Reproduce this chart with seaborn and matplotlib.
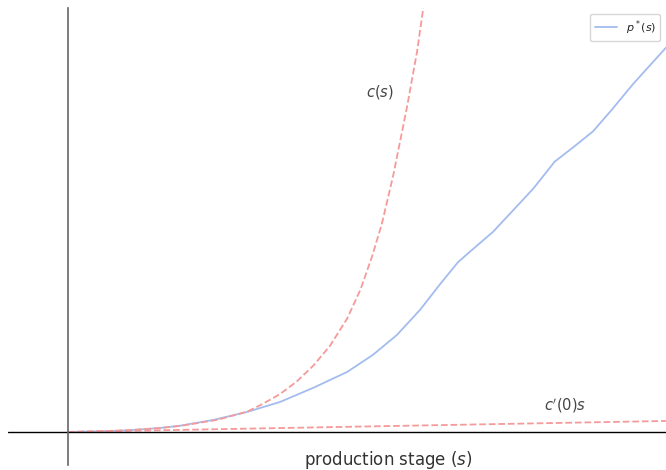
import numpy as np
import pandas as pd
import matplotlib
matplotlib.use("Agg")
import matplotlib.pyplot as plt
import seaborn as sns

# p*(s)
s_p = [0, 0.05, 0.1, 0.154, 0.188, 0.243, 0.300, 0.355, 0.410, 0.467, 0.510,
       0.550, 0.589, 0.622, 0.652, 0.672, 0.711, 0.778, 0.814, 0.846, 0.878,
       0.91, 0.945, 1.0]
p_vals = [0, 0.5, 1.4, 3.6, 5.7, 10.9, 18.2, 27.3, 40, 54.5, 70,
          88, 111, 134, 154, 163.6, 181.8, 220.9, 245.5, 259, 273,
          293, 316, 349]

# c(s)
s_c = [0, 0.05, 0.1, 0.15, 0.188, 0.25, 0.300, 0.326, 0.355, 0.383, 0.410, 0.438,
       0.467, 0.489, 0.509, 0.525, 0.544, 0.567, 0.584, 0.594, 0.605]
c_vals = [0, 0.6, 1.6, 3.4, 5.5, 11, 18.5, 25.5, 34.5, 46, 60, 78,
          103, 129, 160, 189, 233, 295, 346, 384, 428]

# c'(0) s
s_l = [0, 1.0]
l_vals = [0, 10]

sns.set_style("white")
plt.rcParams['font.family'] = ['DejaVu Sans']

fig = plt.figure(figsize=(6.66, 4.70), dpi=100)
ax = fig.add_axes([8/666, 5/470, 658/666, 457/470])

blue = '#a3bcef'
red = '#f59a9a'

sns.lineplot(x=s_p, y=p_vals, ax=ax, color=blue, lw=1.3, label='$p^*(s)$')
sns.lineplot(x=s_c, y=c_vals, ax=ax, color=red, lw=1.3, linestyle='--')
sns.lineplot(x=s_l, y=l_vals, ax=ax, color=red, lw=1.3, linestyle='--')

ax.set_xlim(-0.1, 1.0)
ax.set_ylim(-30, 385)
ax.axhline(0, color='black', lw=1)
ax.spines['left'].set_position(('data', 0))
ax.spines['left'].set_color('#666666')
ax.spines['left'].set_linewidth(1.2)
for sp in ['right', 'top', 'bottom']:
    ax.spines[sp].set_visible(False)
ax.set_xticks([])
ax.set_yticks([])

ax.text(0.522, 309, '$c(s)$', fontsize=10.5, color='#444444', ha='center', va='center')
ax.text(0.831, 24, "$c'(0)s$", fontsize=10.5, color='#444444', ha='center', va='center')

fig.text(388/666, 10/470, 'production stage ($s$)', fontsize=12, color='#333333',
         ha='center', va='center')

leg = ax.legend(loc='upper right', fontsize=8, frameon=True)

fig.savefig('out.png', dpi=100)
